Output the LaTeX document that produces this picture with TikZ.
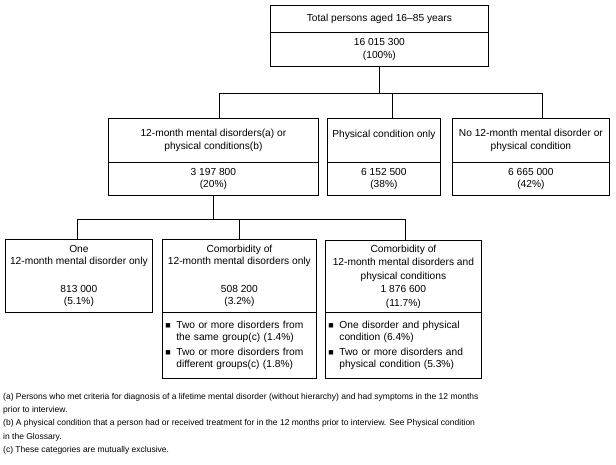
\documentclass[tikz,border=0pt]{standalone}
\usepackage{fontspec}
\setmainfont{Liberation Sans}
\newcommand{\bul}[2]{\makebox[11pt][l]{\small ■}#1\\\hspace*{11pt}#2}
\tikzset{
  box/.style={draw, line width=0.8pt, anchor=north west, inner sep=0pt, align=center,
    font=\fontsize{10.2}{12.5}\selectfont},
  listbox/.style={box, align=left, inner xsep=3pt},
  link/.style={line width=0.8pt},
}
\begin{document}
\begin{tikzpicture}[x=1pt,y=-1pt]
  \useasboundingbox (0,0) rectangle (616,464);
  % top box
  \node[box, minimum width=218, minimum height=27] (tot) at (270,5) {Total persons aged 16--85 years};
  \node[box, minimum width=218, minimum height=34] (totv) at (270,32) {16 015 300\\(100\%)};
  % first row
  \node[box, minimum width=210, minimum height=44] (menh) at (108,118) {12-month mental disorders(a) or\\physical conditions(b)};
  \node[box, minimum width=210, minimum height=33] (menv) at (108,162) {3 197 800\\(20\%)};
  \node[box, minimum width=113, minimum height=44] (phyh) at (327,118) {Physical condition only\\\mbox{}};
  \node[box, minimum width=113, minimum height=33] (phyv) at (327,162) {6 152 500\\(38\%)};
  \node[box, minimum width=157, minimum height=44] (noh) at (452,118) {No 12-month mental disorder or\\physical condition};
  \node[box, minimum width=157, minimum height=33] (nov) at (452,162) {6 665 000\\(42\%)};
  % second row
  \node[box, minimum width=147, minimum height=73] (one) at (5,239) {One\\12-month mental disorder only\\[15pt]813 000\\(5.1\%)};
  \node[box, minimum width=154, minimum height=73] (comh) at (162,239) {Comorbidity of\\12-month mental disorders only\\[15pt]508 200\\(3.2\%)};
  \node[listbox, text width=148, minimum height=66] (coml) at (162,312)
    {\bul{Two or more disorders from}{the same group(c) (1.4\%)}\\[2pt]
     \bul{Two or more disorders from}{different groups(c) (1.8\%)}};
  \node[box, minimum width=156, minimum height=72, font=\fontsize{10.2}{13.5}\selectfont] (bothh) at (325,240)
    {Comorbidity of\\12-month mental disorders and\\physical conditions\\1 876 600\\(11.7\%)};
  \node[listbox, text width=150, minimum height=66] (bothl) at (325,312)
    {\bul{One disorder and physical}{condition (6.4\%)}\\[2pt]
     \bul{Two or more disorders and}{physical condition (5.3\%)}};
  % connectors
  \coordinate (b1l) at (219,93);
  \coordinate (b1m) at (392,93);
  \coordinate (b1r) at (542,93);
  \draw[link] (totv.south) -- (totv.south |- b1l);
  \draw[link] (b1l) -- (b1r);
  \draw[link] (b1l) -- (b1l |- menh.north);
  \draw[link] (b1m) -- (b1m |- phyh.north);
  \draw[link] (b1r) -- (b1r |- noh.north);
  \coordinate (b2l) at (77,219);
  \coordinate (b2m) at (239,219);
  \coordinate (b2r) at (405,219);
  \draw[link] (menv.south) -- (menv.south |- b2l);
  \draw[link] (b2l) -- (b2r);
  \draw[link] (b2l) -- (b2l |- one.north);
  \draw[link] (b2m) -- (b2m |- comh.north);
  \draw[link] (b2r) -- (b2r |- bothh.north);
  % footnotes
  \node[anchor=north west, inner sep=0pt, align=left, font=\fontsize{8.5}{13.3}\selectfont] (notes) at (3,393)
    {(a) Persons who met criteria for diagnosis of a lifetime mental disorder (without hierarchy) and had symptoms in the 12 months\\
     prior to interview.\\
     (b) A physical condition that a person had or received treatment for in the 12 months prior to interview. See Physical condition\\
     in the Glossary.\\
     (c) These categories are mutually exclusive.};
\end{tikzpicture}
\end{document}
